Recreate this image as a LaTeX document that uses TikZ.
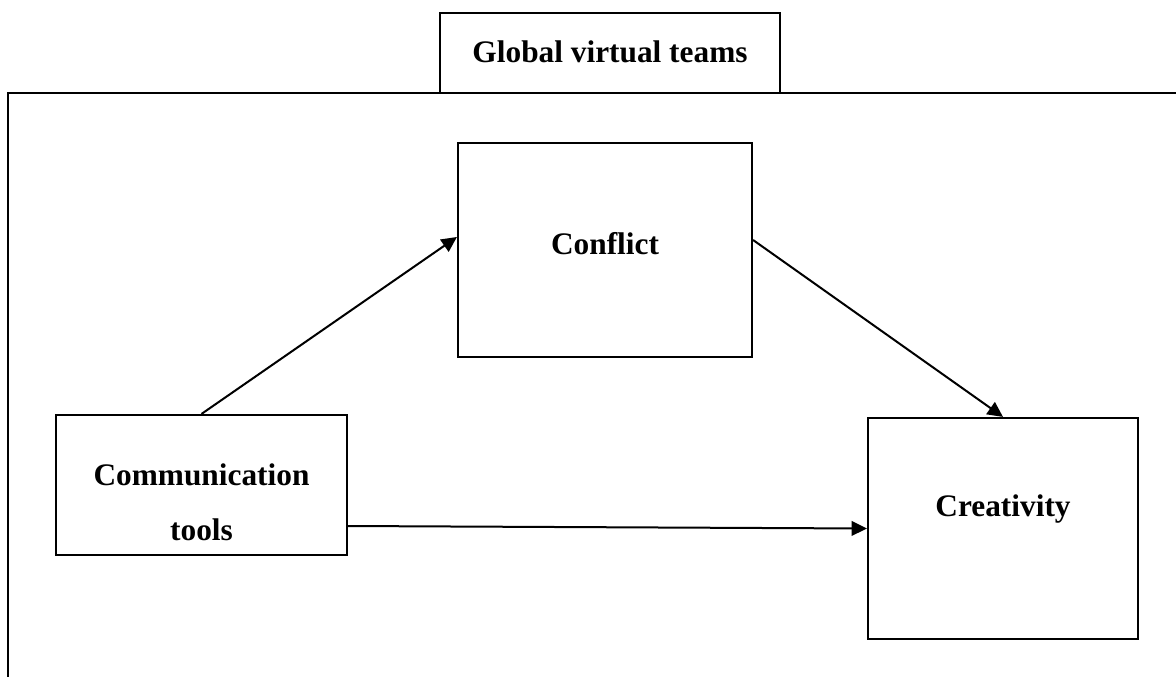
\documentclass[tikz,border=0pt]{standalone}
\usepackage{fontspec}
\setmainfont{Liberation Serif}
\usetikzlibrary{arrows.meta,calc}
\begin{document}
\begin{tikzpicture}[x=0.75pt,y=-0.75pt,
  line width=1.5pt,
  boxnode/.style={draw,rectangle,inner sep=0pt,line width=1.6pt},
  lbl/.style={font=\fontsize{23.5pt}{28pt}\selectfont\bfseries,inner sep=0pt,anchor=base},
  conn/.style={-{Triangle[length=11.5pt,width=11pt]},line width=1.5pt}]
\useasboundingbox (0,0) rectangle (1176,677);
% outer frame (top and left edges)
\coordinate (frameTR) at (1176,93);
\coordinate (frameTL) at (8,93);
\coordinate (frameBL) at (8,677);
\draw[line width=1.6pt] (frameTR) -- (frameTL) -- (frameBL);
% boxes
\node[boxnode,minimum width=340*0.75pt,minimum height=80*0.75pt] (title) at (610,53) {};
\node[boxnode,minimum width=294*0.75pt,minimum height=214*0.75pt] (conflict) at (605,250) {};
\node[boxnode,minimum width=291*0.75pt,minimum height=140*0.75pt] (comm) at (201.5,485) {};
\node[boxnode,minimum width=270*0.75pt,minimum height=221*0.75pt] (creat) at (1003,528.5) {};
% labels
\node[lbl] (titletext) at (610,63) {Global virtual teams};
\node[lbl] (conflicttext) at (605,254) {Conflict};
\node[lbl] (commtext1) at (201.5,485) {Communication};
\node[lbl] (commtext2) at (201.5,540) {tools};
\node[lbl] (creattext) at (1003,516.5) {Creativity};
% connectors
\draw[conn] (comm.north) -- ($(conflict.west)+(0,-13)$);
\draw[conn] ($(conflict.east)+(0,-10)$) -- (creat.north);
\draw[conn] ($(comm.east)+(0,41)$) -- (creat.west);
\end{tikzpicture}
\end{document}
